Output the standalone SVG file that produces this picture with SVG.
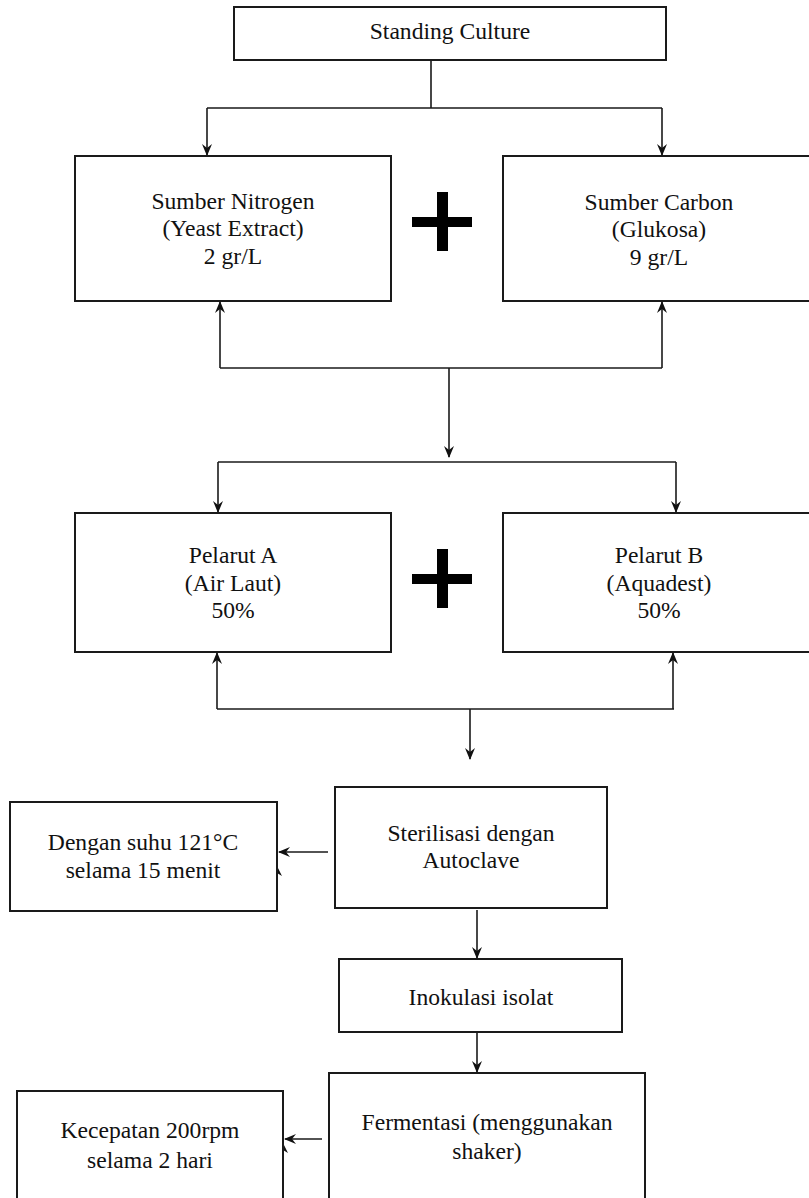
<svg xmlns="http://www.w3.org/2000/svg" width="809" height="1198" viewBox="0 0 809 1198">
<style>
.box{fill:#fff;stroke:#1a1a1a;stroke-width:2}
.t{font-family:"Liberation Serif","Times New Roman",serif;font-size:23.6px;fill:#111;text-anchor:middle}
.ln{fill:none;stroke:#1a1a1a;stroke-width:1.6}
.ar{fill:none;stroke:#1a1a1a;stroke-width:1.6;marker-end:url(#ah)}
.plus{fill:#000}
</style>
<defs>
<marker id="ah" markerUnits="userSpaceOnUse" markerWidth="12" markerHeight="12" viewBox="0 0 12 12" refX="11" refY="6" orient="auto">
<path d="M0,1 L12,6 L0,11 L4,6 z" fill="#111"/>
</marker>
</defs>
<rect width="809" height="1198" fill="#fff"/>

<g id="connectors">
<path class="ln" d="M431,60 V108 M207,108 H662"/>
<path class="ar" d="M207,108 V155"/>
<path class="ar" d="M662,108 V155"/>
<path class="ln" d="M220,368 H662"/>
<path class="ar" d="M220,368 V302"/>
<path class="ar" d="M662,368 V302"/>
<path class="ar" d="M449,368 V457"/>
<path class="ln" d="M218,462 H676"/>
<path class="ar" d="M218,462 V512"/>
<path class="ar" d="M676,462 V512"/>
<path class="ln" d="M217,709 H674"/>
<path class="ar" d="M217,709 V653"/>
<path class="ar" d="M673,709 V653"/>
<path class="ar" d="M470,709 V759"/>
<path class="ar" d="M328,852 H279"/>
<path class="ar" d="M477,910 V958"/>
<path class="ar" d="M477,1033 V1072"/>
<path class="ar" d="M322,1139 H285"/>
<path d="M272,876 L277,866 L282,876 L277,873 z" fill="#111"/>
<path d="M278,1153 L283,1143 L288,1153 L283,1150 z" fill="#111"/>
</g>

<g id="standing-culture">
<rect class="box" x="234" y="7" width="432" height="53"/>
<text class="t" x="450" y="39">Standing Culture</text>
</g>

<g id="sumber-nitrogen">
<rect class="box" x="75" y="156" width="316" height="145"/>
<text class="t" x="233" y="209">Sumber Nitrogen</text>
<text class="t" x="233" y="236">(Yeast Extract)</text>
<text class="t" x="233" y="264">2 gr/L</text>
</g>

<g id="plus-1">
<rect class="plus" x="412" y="217" width="60" height="10"/>
<rect class="plus" x="437" y="192" width="11" height="59"/>
</g>

<g id="sumber-carbon">
<rect class="box" x="503" y="156" width="312" height="145"/>
<text class="t" x="659" y="210">Sumber Carbon</text>
<text class="t" x="659" y="237">(Glukosa)</text>
<text class="t" x="659" y="265">9 gr/L</text>
</g>

<g id="pelarut-a">
<rect class="box" x="75" y="513" width="316" height="139"/>
<text class="t" x="233" y="563">Pelarut A</text>
<text class="t" x="233" y="591">(Air Laut)</text>
<text class="t" x="233" y="618">50%</text>
</g>

<g id="plus-2">
<rect class="plus" x="412" y="574" width="60" height="10"/>
<rect class="plus" x="437" y="549" width="11" height="59"/>
</g>

<g id="pelarut-b">
<rect class="box" x="503" y="513" width="312" height="139"/>
<text class="t" x="659" y="563">Pelarut B</text>
<text class="t" x="659" y="591">(Aquadest)</text>
<text class="t" x="659" y="618">50%</text>
</g>

<g id="sterilisasi">
<rect class="box" x="335" y="787" width="272" height="121"/>
<text class="t" x="471" y="841">Sterilisasi dengan</text>
<text class="t" x="471" y="868">Autoclave</text>
</g>

<g id="suhu">
<rect class="box" x="10" y="802" width="267" height="109"/>
<text class="t" x="143" y="850">Dengan suhu 121°C</text>
<text class="t" x="143" y="878">selama 15 menit</text>
</g>

<g id="inokulasi">
<rect class="box" x="339" y="959" width="283" height="73"/>
<text class="t" x="481" y="1005">Inokulasi isolat</text>
</g>

<g id="fermentasi">
<rect class="box" x="329" y="1073" width="316" height="140"/>
<text class="t" x="487" y="1130">Fermentasi (menggunakan</text>
<text class="t" x="487" y="1159">shaker)</text>
</g>

<g id="kecepatan">
<rect class="box" x="17" y="1091" width="266" height="120"/>
<text class="t" x="150" y="1138">Kecepatan 200rpm</text>
<text class="t" x="150" y="1168">selama 2 hari</text>
</g>
</svg>
